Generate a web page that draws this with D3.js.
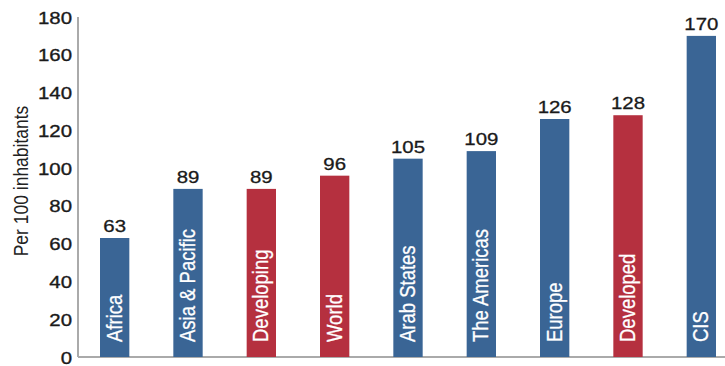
<!DOCTYPE html>
<html>
<head>
<meta charset="utf-8">
<script src="https://cdn.jsdelivr.net/npm/d3@7"></script>
<style>
  body { margin: 0; background: #fff; }
  svg text { font-family: "Liberation Sans", Arial, sans-serif; }
</style>
</head>
<body>
<svg id="chart" width="725" height="366"></svg>
<script>
var regions = ["Africa", "Asia & Pacific", "Developing", "World", "Arab States",
               "The Americas", "Europe", "Developed", "CIS"];
var subscriptions = [63, 89, 89, 96, 105, 109, 126, 128, 170];
var groupType = ["region", "region", "group", "group", "region",
                 "region", "region", "group", "region"];
var yTicks = [0, 20, 40, 60, 80, 100, 120, 140, 160, 180];

var data = regions.map(function(r, i) {
    return {name: r, value: subscriptions[i], type: groupType[i]};
});

var width = 725;
var height = 366;
var margin = {top: 17, right: 0, bottom: 9, left: 78};
var chartHeight = height - margin.top - margin.bottom;
var sx = 1.2; // glyphs are a little wider than tall

var colour = {region: "#3a6595", group: "#b5303f"};

var svg = d3.select("#chart");

var xScale = d3.scaleBand()
    .domain(regions)
    .range([0, 660])
    .paddingInner(0.6)
    .paddingOuter(0.3);

var yScale = d3.scaleLinear()
    .domain([0, 180])
    .range([chartHeight, 0]);

var g = svg.append("g")
    .attr("transform", "translate(" + margin.left + "," + margin.top + ")");

// y axis: labels only, then a plain grey line
var yAxis = g.append("g")
    .call(d3.axisLeft(yScale).tickValues(yTicks).tickSize(0).tickPadding(0));
yAxis.select(".domain").remove();
yAxis.selectAll("text")
    .attr("x", null)
    .attr("dy", null)
    .attr("transform", "translate(-6,6) scale(" + sx + ",1)")
    .style("text-anchor", "end")
    .style("font-size", "17px")
    .style("fill", "#1a1a1a")
    .style("stroke", "#1a1a1a")
    .style("stroke-width", 0.35);

g.append("line")
    .attr("x1", 0).attr("x2", 0)
    .attr("y1", yScale(180)).attr("y2", yScale(0))
    .style("stroke", "#aaa")
    .style("stroke-width", 2);

g.append("line")
    .attr("x1", 0).attr("x2", width - margin.left)
    .attr("y1", yScale(0)).attr("y2", yScale(0))
    .style("stroke", "#aaa")
    .style("stroke-width", 2);

svg.append("text")
    .attr("transform", "translate(28," + (margin.top + chartHeight / 2 - 6) + ") scale(" + sx + ",1) rotate(-90)")
    .style("text-anchor", "middle")
    .style("font-size", "17.5px")
    .style("fill", "#222")
    .text("Per 100 inhabitants");

var bars = g.selectAll("g.bar")
    .data(data)
    .enter()
    .append("g")
    .attr("class", "bar");

bars.append("rect")
    .attr("x", function(d) { return xScale(d.name); })
    .attr("y", function(d) { return yScale(d.value); })
    .attr("width", xScale.bandwidth())
    .attr("height", function(d) { return chartHeight - yScale(d.value); })
    .style("fill", function(d) { return colour[d.type]; });

// value above each bar
bars.append("text")
    .attr("transform", function(d) {
        return "translate(" + (xScale(d.name) + xScale.bandwidth() / 2) + "," +
            (yScale(d.value) - 6) + ") scale(" + sx + ",1)";
    })
    .style("text-anchor", "middle")
    .style("font-size", "17px")
    .style("fill", "#1a1a1a")
    .style("stroke", "#1a1a1a")
    .style("stroke-width", 0.3)
    .text(function(d) { return d.value; });

// region name running up inside the bar
bars.append("text")
    .attr("transform", function(d) {
        return "translate(" + (xScale(d.name) + xScale.bandwidth() / 2 + 7) + "," +
            (chartHeight - 15) + ") scale(" + sx + ",1) rotate(-90)";
    })
    .style("text-anchor", "start")
    .style("font-size", "18.5px")
    .style("fill", "#fff")
    .style("stroke", "#fff")
    .style("stroke-width", 0.25)
    .text(function(d) { return d.name; });
</script>
</body>
</html>
